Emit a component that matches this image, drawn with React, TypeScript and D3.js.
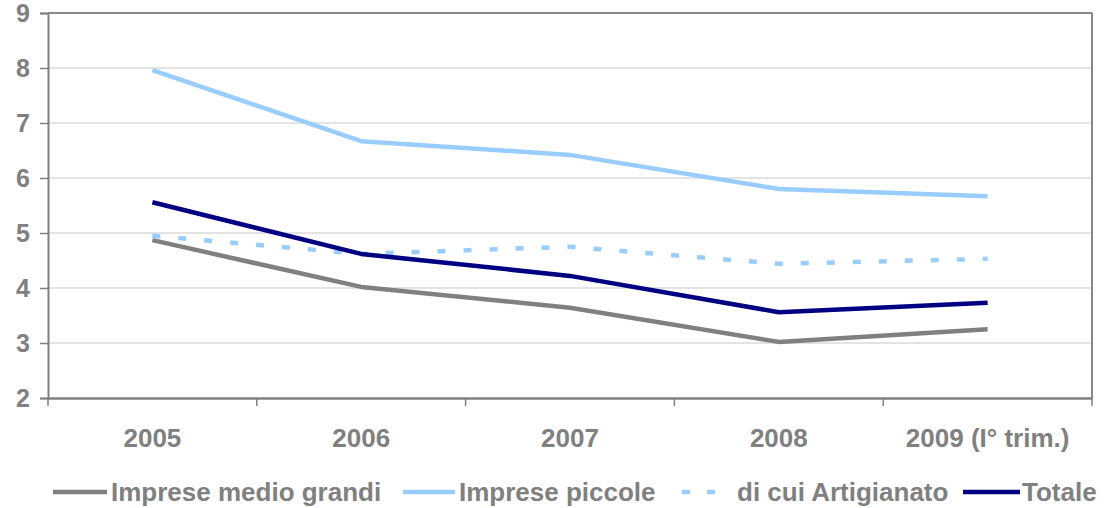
import React, { useRef, useEffect } from 'react';
import * as d3 from 'd3';

const categories = ['2005', '2006', '2007', '2008', '2009 (I° trim.)'];
const medioGrandi = [4.87, 4.02, 3.64, 3.02, 3.25];
const piccole = [7.96, 6.67, 6.42, 5.8, 5.67];
const artigianato = [4.95, 4.62, 4.75, 4.44, 4.53];
const totale = [5.56, 4.62, 4.22, 3.56, 3.73];
const yTicks = [2, 3, 4, 5, 6, 7, 8, 9];

const series = [
  { name: 'Imprese medio grandi', values: medioGrandi, color: '#808080', dash: null },
  { name: 'Imprese piccole', values: piccole, color: '#99ccff', dash: null },
  { name: 'di cui Artigianato', values: artigianato, color: '#99ccff', dash: '8,18' },
  { name: 'Totale', values: totale, color: '#000080', dash: null },
];

const W = 1109;
const H = 508;
const left = 48;
const right = 1092;
const top = 13;
const bottom = 398;
const font = '"Liberation Sans", Arial, sans-serif';
const textColor = '#808080';

const App: React.FC = () => {
  const svgRef = useRef<SVGSVGElement | null>(null);

  useEffect(() => {
    const svg = d3.select(svgRef.current);
    svg.selectAll('*').remove();

    const x = d3.scaleBand().domain(categories).range([left, right]);
    const y = d3.scaleLinear().domain([2, 9]).range([bottom, top]);

    // gridlines
    svg.append('g')
      .selectAll('line')
      .data(yTicks.slice(1, -1))
      .enter()
      .append('line')
      .attr('x1', left)
      .attr('x2', right)
      .attr('y1', d => y(d))
      .attr('y2', d => y(d))
      .attr('stroke', '#c8c8c8')
      .attr('stroke-width', 1);

    // frame top / right
    svg.append('line').attr('x1', left).attr('x2', right).attr('y1', top).attr('y2', top)
      .attr('stroke', '#888').attr('stroke-width', 2);
    svg.append('line').attr('x1', right).attr('x2', right).attr('y1', top).attr('y2', bottom)
      .attr('stroke', '#888').attr('stroke-width', 2);

    // y axis
    const yAxis = svg.append('g')
      .attr('transform', `translate(${left},0)`)
      .call(d3.axisLeft(y).tickValues(yTicks).tickSize(8).tickPadding(10).tickFormat(d3.format('d')));
    yAxis.select('.domain').attr('stroke', '#808080').attr('stroke-width', 2);
    yAxis.selectAll('.tick line').attr('stroke', '#808080').attr('stroke-width', 1.5);
    yAxis.selectAll('.tick text')
      .attr('fill', textColor)
      .style('font-family', font)
      .style('font-size', '25px')
      .style('font-weight', 'bold');

    // x axis
    const xAxis = svg.append('g')
      .attr('transform', `translate(0,${bottom})`)
      .call(d3.axisBottom(x).tickSize(0).tickPadding(31));
    xAxis.select('.domain').attr('stroke', '#808080').attr('stroke-width', 2.5);
    xAxis.selectAll('.tick text')
      .attr('fill', textColor)
      .style('font-family', font)
      .style('font-size', '26px')
      .style('font-weight', 'bold');

    // category separators
    const edges = categories.map(c => x(c)!).concat([right]);
    svg.append('g')
      .selectAll('line')
      .data(edges)
      .enter()
      .append('line')
      .attr('x1', d => d)
      .attr('x2', d => d)
      .attr('y1', bottom)
      .attr('y2', bottom + 8)
      .attr('stroke', '#808080')
      .attr('stroke-width', 1.5);

    const line = d3.line<number>()
      .x((_, i) => x(categories[i])! + x.bandwidth() / 2)
      .y(d => y(d));

    series.forEach(s => {
      svg.append('path')
        .datum(s.values)
        .attr('d', line)
        .attr('fill', 'none')
        .attr('stroke', s.color)
        .attr('stroke-width', 4.5)
        .attr('stroke-linejoin', 'round')
        .attr('stroke-dasharray', s.dash);
    });

    // legend
    const legendY = 501;
    const legendItems = [
      { x0: 53, x1: 107, tx: 111 },
      { x0: 403, x1: 455, tx: 459 },
      { x0: 682, x1: 730, tx: 737 },
      { x0: 963, x1: 1020, tx: 1022 },
    ];
    series.forEach((s, i) => {
      const li = legendItems[i];
      svg.append('line')
        .attr('x1', li.x0)
        .attr('x2', li.x1)
        .attr('y1', legendY - 9)
        .attr('y2', legendY - 9)
        .attr('stroke', s.color)
        .attr('stroke-width', 4.5)
        .attr('stroke-dasharray', s.dash ? '8,17' : null);
      svg.append('text')
        .attr('x', li.tx)
        .attr('y', legendY)
        .attr('fill', textColor)
        .style('font-family', font)
        .style('font-size', '26px')
        .style('font-weight', 'bold')
        .text(s.name);
    });
  }, []);

  return (
    <svg
      ref={svgRef}
      width={W}
      height={H}
      style={{ position: 'absolute', left: 0, top: 0, background: '#fff' }}
    />
  );
};

export default App;
